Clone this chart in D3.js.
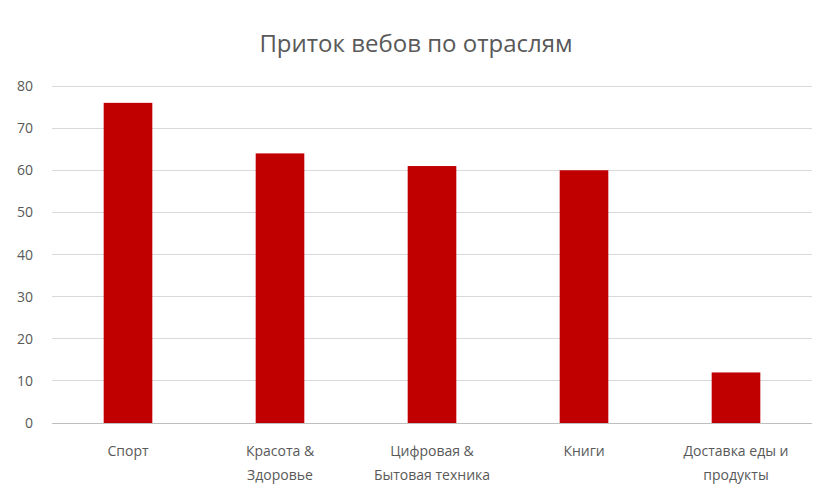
<!DOCTYPE html>
<html><head><meta charset="utf-8">
<script src="https://cdn.jsdelivr.net/npm/d3@7"></script>
<style>body{margin:0;background:#fff}text{font-family:"Open Sans","Liberation Sans",sans-serif}</style>
</head><body><svg id="c" width="832" height="498"></svg>
<script>
const categories = [["Спорт"],["Красота &","Здоровье"],["Цифровая &","Бытовая техника"],["Книги"],["Доставка еды и","продукты"]];
const values = [76,64,61,60,12];
const yTicks = [0,10,20,30,40,50,60,70,80];

const svg = d3.select("#c");
const m = {l:52, r:20, t:86, b:75};
const W = 832, H = 498;
const x = d3.scaleBand().domain(d3.range(categories.length)).range([m.l, W-m.r]).paddingInner(0.68).paddingOuter(0.34);
const y = d3.scaleLinear().domain([0,80]).range([H-m.b, m.t]);

svg.append("text").attr("x",416).attr("y",52).attr("text-anchor","middle")
  .attr("font-size",24).attr("fill","#595959").text("Приток вебов по отраслям");

const g = svg.append("g");
g.selectAll("line.grid").data(yTicks).enter().append("line")
  .attr("x1",m.l).attr("x2",W-m.r).attr("y1",d=>y(d)).attr("y2",d=>y(d))
  .attr("stroke",d=>d===0?"#bfbfbf":"#d9d9d9").attr("stroke-width",1).attr("shape-rendering","crispEdges");
g.selectAll("text.yt").data(yTicks).enter().append("text")
  .attr("x",33).attr("y",d=>y(d)+5).attr("text-anchor","end")
  .attr("font-size",14).attr("fill","#595959").text(d=>d);

g.selectAll("rect").data(values).enter().append("rect")
  .attr("x",(d,i)=>x(i)).attr("width",x.bandwidth())
  .attr("y",d=>y(d)).attr("height",d=>y(0)-y(d)).attr("fill","#c00000");

categories.forEach((lines,i)=>{
  const t = svg.append("text").attr("text-anchor","middle").attr("font-size",14).attr("fill","#595959");
  lines.forEach((s,j)=>t.append("tspan").attr("x",x(i)+x.bandwidth()/2).attr("y",H-m.b+33+j*24).text(s));
});
</script></body></html>
